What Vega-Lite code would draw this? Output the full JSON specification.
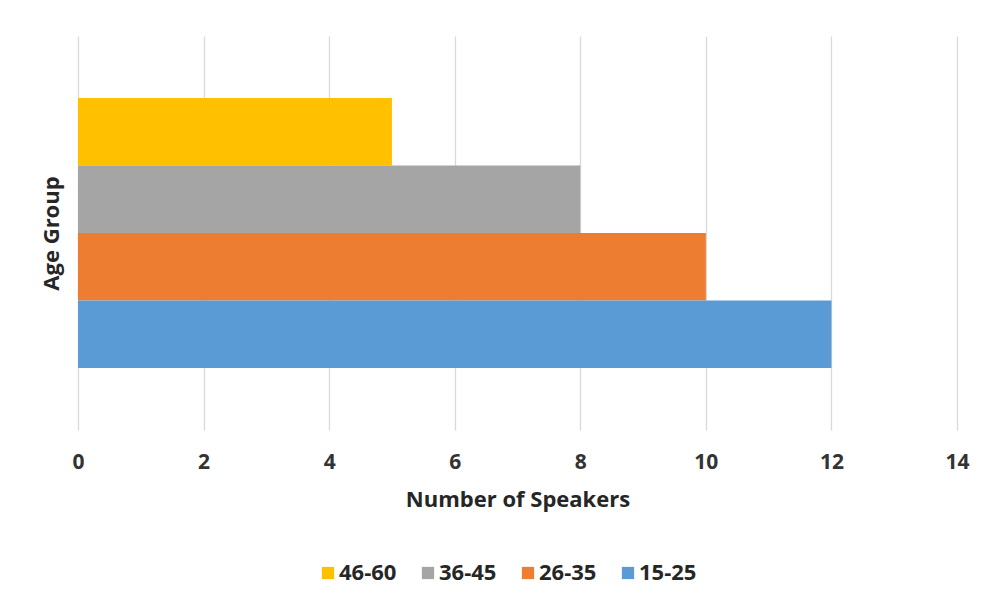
{
  "$schema": "https://vega.github.io/schema/vega-lite/v6.json",
  "width": 879,
  "height": 394,
  "autosize": "none",
  "padding": {"left": 78, "top": 36, "right": 27, "bottom": 175},
  "background": "white",
  "data": {
    "values": [
      {"group": "46-60", "speakers": 5},
      {"group": "36-45", "speakers": 8},
      {"group": "26-35", "speakers": 10},
      {"group": "15-25", "speakers": 12}
    ]
  },
  "mark": {"type": "bar", "cornerRadius": 0},
  "encoding": {
    "y": {
      "field": "group",
      "type": "nominal",
      "sort": ["46-60", "36-45", "26-35", "15-25"],
      "scale": {"paddingInner": 0, "paddingOuter": 0.918},
      "axis": {
        "title": "Age Group",
        "labels": false,
        "ticks": false,
        "domain": false,
        "titlePadding": 15,
        "titleFontSize": 22,
        "titleFontWeight": "bold",
        "titleColor": "#262626",
        "titleFont": "Open Sans"
      }
    },
    "x": {
      "field": "speakers",
      "type": "quantitative",
      "scale": {"domain": [0, 14], "nice": false},
      "axis": {
        "title": "Number of Speakers",
        "values": [0, 2, 4, 6, 8, 10, 12, 14],
        "grid": true,
        "gridColor": "#d9d9d9",
        "gridWidth": 1.3,
        "domain": false,
        "ticks": false,
        "labelFlush": false,
        "labelPadding": 21,
        "labelFontSize": 21,
        "labelFontWeight": "bold",
        "labelColor": "#333333",
        "labelFont": "Open Sans",
        "titlePadding": 17,
        "titleFontSize": 22,
        "titleFontWeight": "bold",
        "titleColor": "#262626",
        "titleFont": "Open Sans"
      }
    },
    "color": {
      "field": "group",
      "type": "nominal",
      "sort": ["46-60", "36-45", "26-35", "15-25"],
      "scale": {
        "domain": ["46-60", "36-45", "26-35", "15-25"],
        "range": ["#FFC000", "#A5A5A5", "#ED7D31", "#5B9BD5"]
      },
      "legend": {
        "title": null,
        "orient": "none",
        "legendX": 239,
        "legendY": 526,
        "direction": "horizontal",
        "columns": 4,
        "columnPadding": 20,
        "symbolType": "square",
        "symbolSize": 150,
        "symbolStrokeWidth": 0,
        "labelFontSize": 22,
        "labelFontWeight": "bold",
        "labelColor": "#262626",
        "labelFont": "Open Sans",
        "labelOffset": 0
      }
    }
  },
  "config": {
    "view": {"stroke": null}
  }
}
